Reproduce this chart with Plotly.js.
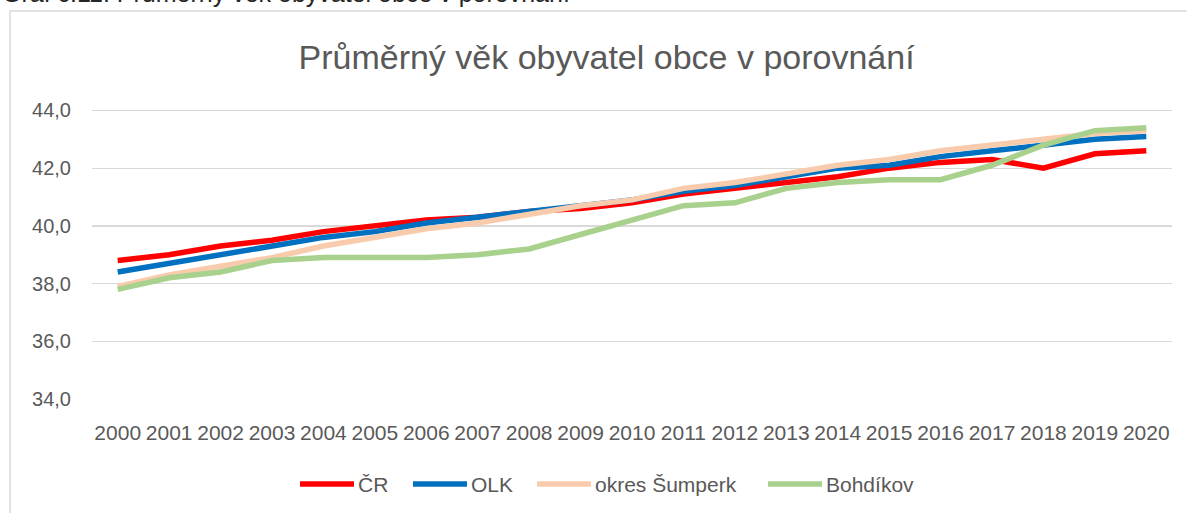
<!DOCTYPE html>
<html>
<head>
<meta charset="utf-8">
<script src="https://cdn.plot.ly/plotly-3.0.1.min.js"></script>
<style>
html,body{margin:0;padding:0;background:#fff;overflow:hidden;}
#chart{width:1187px;height:513px;}
</style>
</head>
<body>
<div id="chart"></div>
<script>
const years = ['2000','2001','2002','2003','2004','2005','2006','2007','2008','2009','2010','2011','2012','2013','2014','2015','2016','2017','2018','2019','2020'];
const cr = [38.8,39.0,39.3,39.5,39.8,40.0,40.2,40.3,40.5,40.6,40.8,41.1,41.3,41.5,41.7,42.0,42.2,42.3,42.0,42.5,42.6];
const olk = [38.4,38.7,39.0,39.3,39.6,39.8,40.1,40.3,40.5,40.7,40.9,41.2,41.4,41.7,42.0,42.1,42.4,42.6,42.8,43.0,43.1];
const sumperk = [37.9,38.3,38.6,38.9,39.3,39.6,39.9,40.1,40.4,40.7,40.9,41.3,41.5,41.8,42.1,42.3,42.6,42.8,43.0,43.2,43.3];
const bohdikov = [37.8,38.2,38.4,38.8,38.9,38.9,38.9,39.0,39.2,39.7,40.2,40.7,40.8,41.3,41.5,41.6,41.6,42.1,42.8,43.3,43.4];
const seriesNames = ['ČR','OLK','okres Šumperk','Bohdíkov'];
const yTicks = [34,36,38,40,42,44];

const colors = ['#FF0000','#0070C0','#F8CBAD','#A9D18E'];
const data = [cr, olk, sumperk, bohdikov].map((v,i)=>({
  type:'scatter', mode:'lines', x:years, y:v, name:seriesNames[i], showlegend:false,
  line:{color:colors[i], width:5.5, shape:'linear'}, hoverinfo:'x+y+name'
}));

const font = 'Liberation Sans, Arial, sans-serif';
// plot area in pixels: left 92, width 1080, bottom 399, height 290
const px = p => (p - 92) / 1080;
const py = p => (399 - p) / 290;

// manual legend (Excel-style long line keys)
const legendLineStarts = [300, 413, 537, 768];
const legendY = 484;
const shapes = [{type:'rect', xref:'paper', yref:'paper', x0:px(10), x1:1.2, y0:-1, y1:py(11), line:{color:'#D9D9D9', width:1.5}, fillcolor:'rgba(0,0,0,0)', layer:'below'}];
const annotations = [{xref:'paper', yref:'paper', x:px(0), xanchor:'left', y:py(9), yanchor:'bottom', showarrow:false, text:'Graf č.11: Průměrný věk obyvatel obce v porovnání', font:{family:font, size:25, color:'#262626'}}];
seriesNames.forEach((n,i)=>{
  const s = legendLineStarts[i];
  shapes.push({type:'line', xref:'paper', yref:'paper', x0:px(s), x1:px(s+54), y0:py(legendY), y1:py(legendY), line:{color:colors[i], width:5.5}});
  annotations.push({xref:'paper', yref:'paper', x:px(s+56), xanchor:'left', y:py(legendY), yanchor:'middle', showarrow:false, text:n, font:{family:font, size:21, color:'#595959'}});
});

const layout = {
  width:1187, height:513,
  margin:{l:92, r:15, t:109, b:114},
  paper_bgcolor:'#fff', plot_bgcolor:'#fff',
  separators:', ',
  font:{family:font, color:'#595959', size:21},
  title:{text:'Průměrný věk obyvatel obce v porovnání', font:{family:font, size:34, color:'#595959'}, x:0.511, xanchor:'center', y:0.889, yanchor:'middle'},
  xaxis:{type:'category', range:[-0.5,20.5], showgrid:false, zeroline:false, showline:false, ticks:'', ticklabelstandoff:19, tickfont:{size:21, color:'#595959'}, fixedrange:true},
  yaxis:{range:[34,44.05], tickvals:yTicks, tickformat:'.1f', showgrid:true, gridcolor:'#D9D9D9', gridwidth:1.3, zeroline:false, showline:false, ticks:'', ticklen:0, ticklabelstandoff:20, tickfont:{size:20, color:'#595959'}, fixedrange:true},
  showlegend:false,
  shapes: shapes,
  annotations: annotations
};
Plotly.newPlot('chart', data, layout, {displayModeBar:false, staticPlot:true});
</script>
</body>
</html>
